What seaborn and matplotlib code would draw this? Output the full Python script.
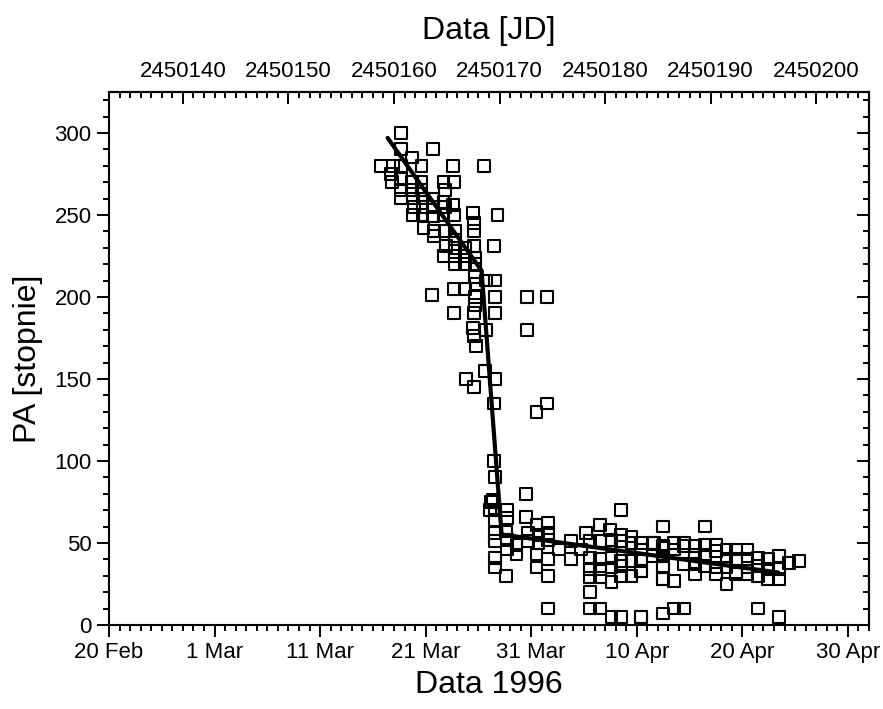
import matplotlib
matplotlib.use("Agg")
import pandas as pd
import matplotlib.pyplot as plt
import seaborn as sns
from matplotlib.ticker import MultipleLocator, FormatStrFormatter

# dni liczone od 20 Feb 1996 (JD 2450133)
JD0 = 2450133

obs_day = [
    27.7, 27.7, 30.7, 28.7, 25.8, 26.9, 27.7, 29.6, 32.6, 35.5, 26.7, 26.8, 27.7, 28.7, 29.6,
    31.7, 32.7, 27.7, 28.7, 29.6, 31.8, 27.7, 28.8, 29.7, 30.7, 31.7, 28.9, 29.7, 30.7, 31.8,
    32.6, 28.8, 29.7, 30.7, 31.7, 32.7, 34.5, 36.8, 34.6, 29.8, 30.8, 31.8, 32.8, 34.6, 30.8,
    32.8, 31.9, 32.8, 33.7, 34.6, 36.5, 31.7, 32.8, 33.7, 34.7, 32.8, 33.7, 34.7, 34.7, 35.7,
    36.6, 34.8, 30.6, 32.7, 33.7, 34.7, 36.6, 32.7, 34.6, 36.6, 39.6, 41.5,
    34.7, 34.5, 35.7, 39.6, 34.6, 34.8, 35.6, 33.8, 36.6, 34.6, 36.5, 41.5, 40.5, 36.5, 36.6,
    39.5, 36.4,
    36.2, 36.1, 36.6, 37.7, 37.7, 48.5, 39.5, 36.6, 40.5, 41.6, 36.6, 37.6, 39.7, 40.7, 41.6,
    45.2, 46.5, 47.5, 48.5, 49.5, 52.5, 36.6, 37.7, 38.6, 39.7, 40.7, 41.6, 42.6, 43.8, 44.7,
    45.6, 46.5, 47.6, 48.5, 49.5, 50.4, 51.6, 52.5, 36.6, 37.7, 38.6, 40.5, 41.6, 43.8, 45.6,
    46.5, 47.6, 48.5, 49.5, 50.4, 52.5, 36.6, 40.5, 45.6, 46.5, 47.6, 48.5, 50.4, 52.5, 37.6,
    41.6, 45.6, 46.5, 47.6, 48.5, 49.5, 52.5, 45.6, 41.6, 45.6, 46.5, 47.6, 48.5, 50.4, 52.5,
    56.5, 51.5, 53.5, 54.5, 55.5, 56.5, 57.5, 58.5, 59.4, 60.5, 50.4, 51.5, 52.5, 53.5, 54.5,
    55.5, 56.5, 57.5, 58.5, 59.4, 60.5, 61.5, 62.4, 63.5, 64.4, 65.4, 50.4, 52.5, 54.5, 55.5,
    56.5, 57.5, 58.5, 59.4, 60.5, 61.5, 62.4, 63.5, 52.5, 53.5, 55.5, 57.5, 58.5, 59.4, 60.5,
    61.5, 62.4, 63.5, 50.4, 53.5, 54.5, 61.5, 63.5,
]
obs_pa = [
    300, 290, 290, 285, 280, 280, 280, 280, 280, 280, 275, 270, 272, 270, 270,
    270, 270, 265, 265, 265, 265, 260, 260, 260, 260, 258, 255, 255, 255, 255,
    256, 250, 250, 249, 250, 250, 251, 250, 245, 242, 240, 240, 240, 240, 237,
    235, 231, 230, 230, 231, 231, 225, 225, 225, 224, 220, 220, 220, 212, 210,
    210, 208, 201, 205, 205, 200, 200, 190, 190, 190, 200, 200,
    195, 181, 180, 180, 176, 170, 155, 150, 150, 145, 135, 135, 130, 100, 90,
    80, 76,
    75, 70, 70, 70, 65, 70, 66, 64, 61, 62, 56, 57, 56, 55, 56,
    56, 61, 58, 55, 54, 60, 51, 52, 49, 51, 50, 52, 46, 51, 46,
    51, 51, 52, 51, 50, 50, 50, 47, 41, 46, 43, 43, 40, 40, 41,
    40, 41, 39, 39, 39, 42, 35, 35, 34, 34, 35, 36, 33, 35, 30,
    30, 29, 29, 26, 30, 30, 28, 20, 10, 10, 10, 5, 5, 5, 7,
    60, 50, 50, 50, 48, 49, 49, 46, 46, 46, 46, 42, 48, 46, 48,
    43, 43, 45, 40, 40, 40, 41, 40, 42, 38, 39, 33, 36, 37, 37,
    36, 35, 35, 32, 35, 36, 34, 34, 28, 27, 31, 31, 25, 31, 31,
    30, 28, 28, 5, 10, 10, 10, 5,
]

# dopasowane odcinki
fit1_day = [26.4, 35.3]
fit1_pa = [297, 216]
fit2_day = [35.3, 37.2]
fit2_pa = [216, 55]
fit3_day = [37.4, 63.4]
fit3_pa = [55, 32]

date_ticks = [0, 10, 20, 30, 40, 50, 60, 70]
date_labels = ["20 Feb", "1 Mar", "11 Mar", "21 Mar", "31 Mar", "10 Apr", "20 Apr", "30 Apr"]
jd_ticks = [2450140, 2450150, 2450160, 2450170, 2450180, 2450190, 2450200]

df = pd.DataFrame({"day": obs_day, "pa": obs_pa})

sns.set_style("ticks")
plt.rcParams["font.family"] = ["Liberation Sans", "DejaVu Sans"]
plt.rcParams["axes.linewidth"] = 1.5
for k in ["text.color", "axes.labelcolor", "axes.edgecolor", "xtick.color", "ytick.color"]:
    plt.rcParams[k] = "black"

fig = plt.figure(figsize=(8.83, 7.09), dpi=100)
ax = fig.add_axes([0.1234, 0.1185, 0.8607, 0.7518])

sns.scatterplot(data=df, x="day", y="pa", marker="s", s=72, facecolors="none",
                edgecolor="black", linewidth=1.5, ax=ax, zorder=3)
for fx, fy in [(fit1_day, fit1_pa), (fit2_day, fit2_pa), (fit3_day, fit3_pa)]:
    sns.lineplot(x=fx, y=fy, color="black", linewidth=3, ax=ax, zorder=4)

ax.set_xlim(0, 72)
ax.set_ylim(0, 325)
ax.set_xticks(date_ticks)
ax.set_xticklabels(date_labels)
ax.xaxis.set_minor_locator(MultipleLocator(1))
ax.yaxis.set_major_locator(MultipleLocator(50))
ax.yaxis.set_minor_locator(MultipleLocator(10))
ax.tick_params(which="major", direction="out", length=8.5, width=1.4, labelsize=16, pad=4,
               top=False, right=False)
ax.tick_params(which="minor", direction="out", length=4.3, width=1.4, top=False, right=False)

ax.set_xlabel("Data 1996", fontsize=23, labelpad=5)
ax.set_ylabel("PA [stopnie]", fontsize=23, labelpad=8)

# gorna os w JD
top = ax.secondary_xaxis("top", functions=(lambda d: d + JD0, lambda j: j - JD0))
top.set_xticks(jd_ticks)
top.xaxis.set_major_formatter(FormatStrFormatter("%d"))
top.xaxis.set_minor_locator(MultipleLocator(1))
top.tick_params(which="major", direction="in", length=8.5, width=1.4, labelsize=16, pad=7)
top.tick_params(which="minor", direction="in", length=4.3, width=1.4)
top.set_xlabel("Data [JD]", fontsize=23, labelpad=16)

right = ax.secondary_yaxis("right")
right.yaxis.set_major_locator(MultipleLocator(50))
right.yaxis.set_minor_locator(MultipleLocator(10))
right.tick_params(which="major", direction="in", length=8.5, width=1.4, labelright=False)
right.tick_params(which="minor", direction="in", length=4.3, width=1.4)

fig.savefig("out.png", dpi=100)
